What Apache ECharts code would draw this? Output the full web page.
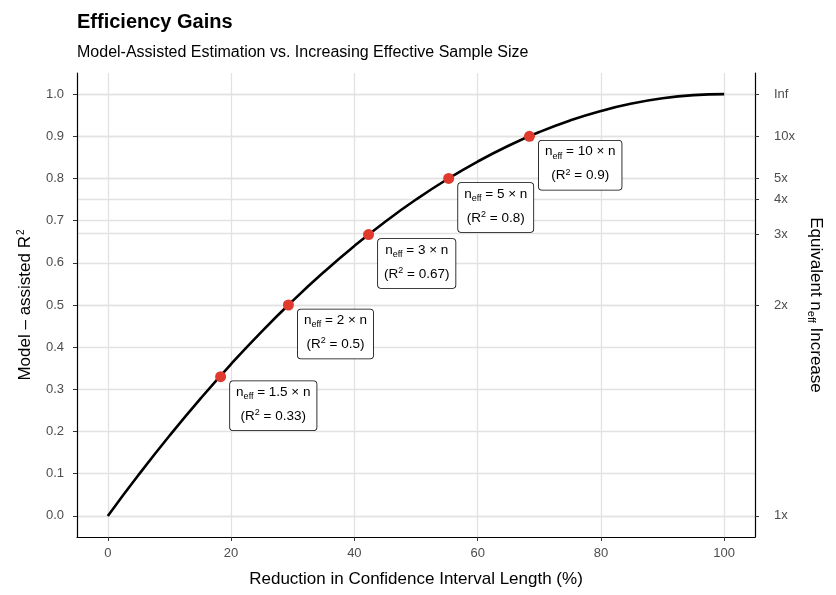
<!DOCTYPE html>
<html>
<head>
    <meta charset="utf-8">
    <title>Efficiency Gains</title>
    <script src="https://cdn.jsdelivr.net/npm/echarts@6/dist/echarts.min.js"></script>
    <style>
        *{margin:0;padding:0}
        #main { width: 836px; height: 595px; background: #fff; }
    </style>
</head>
<body>
    <div id="main"></div>
    <script type="text/javascript">
        // curve: reduction (%) -> R^2
        var curveX = [0, 5, 10, 15, 20, 25, 30, 35, 40, 45, 50, 55, 60, 65, 70, 75, 80, 85, 90, 95, 100];
        var curveY = [0, 0.0975, 0.19, 0.2775, 0.36, 0.4375, 0.51, 0.5775, 0.64, 0.6975, 0.75, 0.7975, 0.84, 0.8775, 0.91, 0.9375, 0.96, 0.9775, 0.99, 0.9975, 1.0];

        // highlighted points
        var ptX = [18.3, 29.3, 42.3, 55.3, 68.4];
        var ptY = [0.33, 0.5, 0.667, 0.8, 0.9];
        var ptMult = ['1.5', '2', '3', '5', '10'];
        var ptR2 = ['0.33', '0.5', '0.67', '0.8', '0.9'];

        // axes
        var xTicks = [0, 20, 40, 60, 80, 100];
        var yTicks = [0, 0.1, 0.2, 0.3, 0.4, 0.5, 0.6, 0.7, 0.8, 0.9, 1.0];
        var rightTicks = [0, 0.5, 0.667, 0.75, 0.8, 0.9, 1.0];
        var rightLabels = ['1x', '2x', '3x', '4x', '5x', '10x', 'Inf'];

        var myChart = echarts.init(document.getElementById('main'));
        var FONT = '"Liberation Sans", Arial, sans-serif';

        var curve = curveX.map(function (x, i) { return [x, curveY[i]]; });
        var pts = ptX.map(function (x, i) { return [x, ptY[i], i]; });

        // grid lines (drawn as markLines so the extra right-axis lines show too)
        var gridLines = [];
        xTicks.forEach(function (v) { gridLines.push({ xAxis: v }); });
        yTicks.concat(rightTicks).forEach(function (v) { gridLines.push({ yAxis: v }); });

        var axisLine = { show: true, onZero: false, lineStyle: { color: '#000', width: 1.2 } };
        function ticks(vals) {
            return { show: true, length: 4, lineStyle: { color: '#333' }, customValues: vals };
        }

        var option = {
            backgroundColor: '#fff',
            animation: false,
            title: {
                text: 'Efficiency Gains',
                subtext: 'Model-Assisted Estimation vs. Increasing Effective Sample Size',
                left: 72,
                top: 7,
                itemGap: 13,
                textStyle: { fontSize: 20, fontWeight: 'bold', color: '#000', fontFamily: FONT },
                subtextStyle: { fontSize: 16, color: '#000', fontFamily: FONT }
            },
            grid: { left: 77, right: 81, top: 73, bottom: 58 },
            xAxis: {
                type: 'value',
                min: -5,
                max: 105,
                name: 'Reduction in Confidence Interval Length (%)',
                nameLocation: 'middle',
                nameGap: 34,
                nameTextStyle: { fontSize: 17, color: '#000', fontFamily: FONT },
                axisLine: axisLine,
                splitLine: { show: false },
                axisTick: ticks(xTicks),
                axisLabel: { color: '#4d4d4d', fontSize: 13, fontFamily: FONT, margin: 10, customValues: xTicks }
            },
            yAxis: [
                {
                    type: 'value',
                    min: -0.05,
                    max: 1.05,
                    position: 'left',
                    name: 'Model – assisted R{sup|2}',
                    nameLocation: 'middle',
                    nameGap: 42,
                    nameTextStyle: {
                        fontSize: 17, color: '#000', fontFamily: FONT,
                        rich: { sup: { fontSize: 10, verticalAlign: 'top', color: '#000', fontFamily: FONT, padding: [0, 0, 9, 1] } }
                    },
                    axisLine: axisLine,
                    splitLine: { show: false },
                    axisTick: ticks(yTicks),
                    axisLabel: {
                        color: '#4d4d4d', fontSize: 13, fontFamily: FONT, margin: 13,
                        customValues: yTicks,
                        formatter: function (v) { return v.toFixed(1); }
                    }
                },
                {
                    type: 'value',
                    min: -0.05,
                    max: 1.05,
                    position: 'right',
                    name: 'Equivalent n{sub|eff} Increase',
                    nameLocation: 'middle',
                    nameRotate: -90,
                    nameGap: 50,
                    nameTextStyle: {
                        fontSize: 17, color: '#000', fontFamily: FONT,
                        rich: { sub: { fontSize: 11, verticalAlign: 'bottom', color: '#000', fontFamily: FONT, padding: [8, 0, 0, 0] } }
                    },
                    axisLine: axisLine,
                    splitLine: { show: false },
                    axisTick: ticks(rightTicks),
                    axisLabel: {
                        color: '#4d4d4d', fontSize: 13, fontFamily: FONT, margin: 19,
                        customValues: rightTicks,
                        formatter: function (v) {
                            for (var i = 0; i < rightTicks.length; i++) {
                                if (Math.abs(rightTicks[i] - v) < 1e-6) return rightLabels[i];
                            }
                            return '';
                        }
                    }
                }
            ],
            series: [
                {
                    type: 'line',
                    data: [],
                    z: 0,
                    silent: true,
                    markLine: {
                        silent: true,
                        z: 0,
                        symbol: 'none',
                        animation: false,
                        label: { show: false },
                        lineStyle: { color: '#e2e2e2', width: 1.3, type: 'solid' },
                        emphasis: { disabled: true },
                        data: gridLines
                    }
                },
                {
                    name: 'curve',
                    type: 'line',
                    data: curve,
                    smooth: true,
                    showSymbol: false,
                    z: 3,
                    lineStyle: { color: '#000', width: 2.6 }
                },
                {
                    name: 'points',
                    type: 'scatter',
                    data: pts,
                    symbolSize: 11,
                    z: 6,
                    itemStyle: { color: '#e03a2e', opacity: 1 },
                    label: {
                        show: true,
                        position: [15, 10],
                        align: 'left',
                        verticalAlign: 'top',
                        backgroundColor: '#fff',
                        borderColor: '#000',
                        borderWidth: 0.8,
                        borderRadius: 3,
                        padding: [1, 6, 0, 6],
                        formatter: function (p) {
                            var i = p.data[2];
                            return '{a|n}{sub|eff}{a| = ' + ptMult[i] + ' × n}\n{b|(R}{sup|2}{b| = ' + ptR2[i] + ')}';
                        },
                        rich: {
                            a: { fontSize: 13.5, color: '#000', fontFamily: FONT, align: 'center', lineHeight: 20 },
                            sub: { fontSize: 9, color: '#000', fontFamily: FONT, align: 'center', verticalAlign: 'bottom', lineHeight: 20, padding: [0, 0, 1, 0] },
                            b: { fontSize: 13.5, color: '#000', fontFamily: FONT, align: 'center', lineHeight: 28 },
                            sup: { fontSize: 9, color: '#000', fontFamily: FONT, align: 'center', verticalAlign: 'top', lineHeight: 28, padding: [6, 0, 0, 0] }
                        }
                    }
                }
            ]
        };

        myChart.setOption(option);
    </script>
</body>
</html>
